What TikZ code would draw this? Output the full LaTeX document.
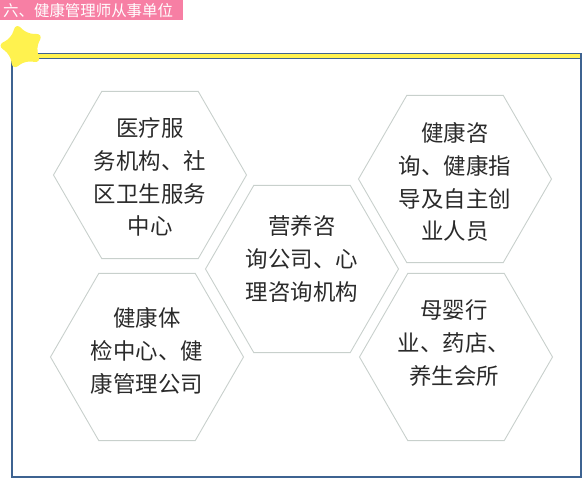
\documentclass[tikz,border=0pt]{standalone}
\usepackage{fontspec}
\newfontfamily\cjk{Noto Sans CJK SC}
\usetikzlibrary{shapes.geometric, positioning}

\definecolor{framblue}{HTML}{3E6391}
\definecolor{bandyellow}{HTML}{FFF24F}
\definecolor{titlepink}{HTML}{F77FA4}
\definecolor{hexgray}{HTML}{C8D0CC}
\definecolor{textgray}{HTML}{2A2A2A}

\begin{document}
\begin{tikzpicture}[
    x=1bp, y=-1bp,
    hexa/.style={regular polygon, regular polygon sides=6, minimum size=193bp,
        inner sep=0pt, outer sep=0pt, draw=hexgray, line width=0.9bp},
    hextext/.style={font=\cjk\fontsize{22.5}{33}\selectfont, text=textgray,
        align=center, inner sep=0pt}
]
    \useasboundingbox (0,0) rectangle (584,479);

    % Title bar
    \fill[titlepink] (0,0) rectangle (183,20);
    \node[anchor=west, inner sep=0pt, text=white, font=\cjk\fontsize{15.5}{16}\selectfont] (title) at (3,10.5) {六、健康管理师从事单位};

    % Frame and yellow band
    \draw[framblue, line width=1.1bp] (12,58.5) rectangle (581,477);
    \draw[framblue, fill=bandyellow, line width=1.1bp] (30,53.5) rectangle (581,58.5);

    % Star
    \node[star, star points=5, star point ratio=1.8, minimum size=50bp, inner sep=0pt,
        fill=bandyellow, rounded corners=7bp, rotate=14] (starmark) at (22,47) {};

    % Hexagons
    \node[hexa] (h1) at (150,175) {};
    \node[hexa] (h2) at (455,179) {};
    \node[hexa] (h3) at (302,269) {};
    \node[hexa] (h4) at (147,357) {};
    \node[hexa] (h5) at (456,357) {};

    % Labels
    \node[hextext] (t1) at (150,177) {医疗服\\务机构、社\\区卫生服务\\中心};
    \node[hextext] (t2) at (455,182) {健康咨\\询、健康指\\导及自主创\\业人员};
    \node[hextext] (t3) at (302,259) {营养咨\\询公司、心\\理咨询机构};
    \node[hextext] (t4) at (147,351) {健康体\\检中心、健\\康管理公司};
    \node[hextext] (t5) at (454,343) {母婴行\\业、药店、\\养生会所};

\end{tikzpicture}
\end{document}
